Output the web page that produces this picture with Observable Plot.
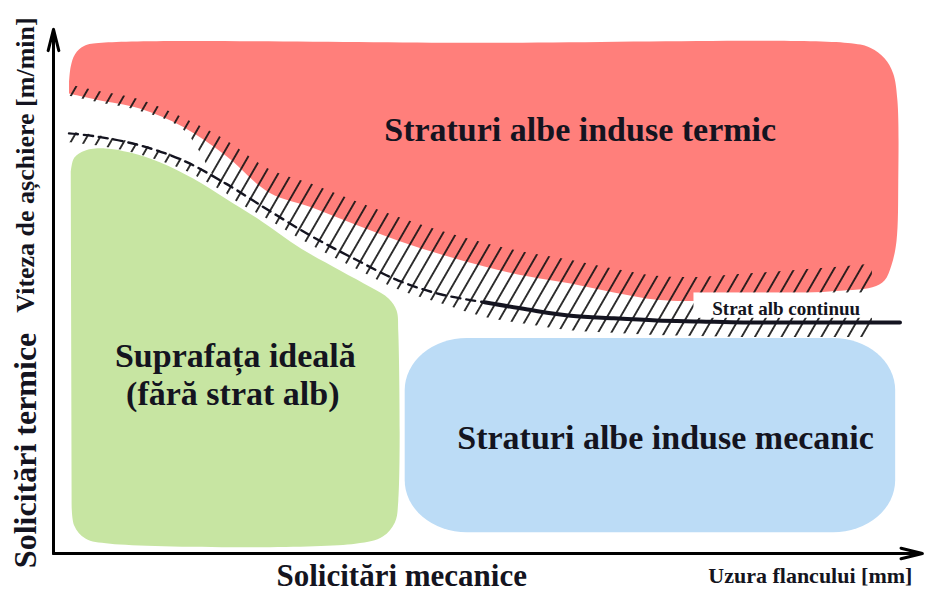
<!DOCTYPE html>
<html><head><meta charset="utf-8">
<script src="https://cdn.jsdelivr.net/npm/d3@7"></script>
<script src="https://cdn.jsdelivr.net/npm/@observablehq/plot@0.6"></script>
<style>body{margin:0;background:#fff;} #chart svg{display:block}</style>
</head><body><div id="chart"></div>
<script>
// ---- data (schematic units: x = flank wear, y = cutting speed, 0..100) ----
const xs        = [1.8, 5, 10, 15, 20, 25, 30, 35, 40, 45, 50, 55, 60, 65, 70, 75, 80, 85, 90, 95];
const redLower  = [88.8, 87.6, 85.9, 82.4, 76.8, 69.7, 66.8, 63.5, 60.4, 57.7, 55.4, 53.5, 52.1, 50.4, 49.0, 48.8, 49.4, 50.0, 50.6, 51.4];
const layerLine = [81.1, 80.5, 78.8, 75.9, 71.4, 66.2, 61.2, 56.8, 52.7, 50.0, 48.5, 47.1, 45.9, 45.4, 45.0, 44.8, 44.6, 44.6, 44.6, 44.6];
const layerEnd  = [98.2, 44.6];

const redTopX = [1.8, 2.0, 2.5, 3.6, 5.6, 50, 92.5, 94.8, 96.4, 97.4, 97.9, 98.0, 97.8, 97.2, 96.4];
const redTopY = [91.0, 94.0, 96.4, 98.0, 98.6, 98.6, 98.5, 97.6, 95.6, 92.7, 87.5, 72.0, 60.4, 55.6, 52.7];

const greenX = [2.0, 2.4, 3.7, 6.0, 8.9, 12.4, 16.2, 20.0, 24.0, 28.7, 33.3, 36.8, 38.9, 39.8, 40.0, 40.0, 39.6, 38.2, 35.0, 6.6, 3.7, 2.4, 2.1];
const greenY = [73.6, 76.4, 77.8, 78.2, 77.4, 75.5, 72.4, 68.5, 64.3, 58.9, 54.6, 51.4, 49.2, 46.9, 42.7, 10.2, 6.0, 3.3, 1.9, 1.9, 2.9, 5.4, 10.2];

const blueX = [40.8, 97.7];
const blueY = [4.0, 41.5];

const regionLabels = ["Straturi albe induse termic", "Straturi albe induse mecanic", "Suprafața ideală", "(fără strat alb)"];
const regionLabelX = [61.1, 71.0, 21.1, 20.8];
const regionLabelY = [81.7, 22.2, 38.2, 30.7];

const layerLabel = ["Strat alb continuu"];
const layerLabelX = [85.0];
const layerLabelY = [47.3];
const layerBoxX = [74.3, 95.8];
const layerBoxY = [45.4, 50.3];

const xTitles = ["Solicitări mecanice", "Uzura flancului [mm]"];
const xTitleX = [40.4, 87.8];
const xTitleY = [-4.3, -4.4];
const yTitles = ["Solicitări termice", "Viteza de așchiere [m/min]"];
const yTitleX = [-3.25, -3.25];
const yTitleY = [19.9, 75.0];

const axisEnds = [[0, 0, 0, 101.2], [0, 0, 100.8, 0]];

// ---- derived tables ----
const pts = (X, Y) => X.map((x, i) => ({x, y: Y[i]}));
const redPoly = pts(redTopX, redTopY).concat(pts(xs, redLower).reverse());
const greenPoly = pts(greenX, greenY);
const band = xs.map((x, i) => ({
  x,
  top: redLower[i] + (x <= 15 ? 1.7 : x <= 20 ? 3 : 4.5),
  bottom: x <= 15 ? redLower[i] - 0.5 : (x < 50 ? layerLine[i] - 1.8 : layerLine[i] - 2.9)
}));
const tickBand = xs.map((x, i) => ({x, top: layerLine[i] + 0.2, bottom: layerLine[i] - 1.8})).filter(d => d.x <= 20);
const dashed = pts(xs, layerLine).filter(d => d.x <= 50);
const thick = pts(xs, layerLine).filter(d => d.x >= 50).concat([{x: layerEnd[0], y: layerEnd[1]}]);
const axes = axisEnds.map(([a, b, c, d]) => ({ax: a, ay: b, bx: c, by: d}));
const blueBox = [{x1: blueX[0], x2: blueX[1], y1: blueY[0], y2: blueY[1]}];
const layerBox = [{x1: layerBoxX[0], x2: layerBoxX[1], y1: layerBoxY[0], y2: layerBoxY[1]}];
const lbl = (T, X, Y) => T.map((t, i) => ({t, x: X[i], y: Y[i]}));
const regionRows = lbl(regionLabels, regionLabelX, regionLabelY);
const layerRows = lbl(layerLabel, layerLabelX, layerLabelY);
const xRows = lbl(xTitles, xTitleX, xTitleY);
const yRows = lbl(yTitles, yTitleX, yTitleY);

const serif = "Liberation Serif, Times New Roman, serif";
const ink = "#141420";

const chart = Plot.plot({
  width: 926, height: 591, margin: 0,
  x: {domain: [0, 100], range: [53, 915], axis: null},
  y: {domain: [0, 100], range: [553, 35], axis: null},
  style: {background: "white", overflow: "visible"},
  marks: [
    Plot.line(redPoly, {x: "x", y: "y", fill: "#ff7f7b", stroke: "none", curve: "catmull-rom"}),
    Plot.line(greenPoly, {x: "x", y: "y", fill: "#c7e5a2", stroke: "none", curve: "catmull-rom"}),
    Plot.rect(blueBox, {x1: "x1", x2: "x2", y1: "y1", y2: "y2", fill: "#bcdcf6", rx: 62, ry: 52}),
    Plot.area(band, {x1: "x", y1: "bottom", y2: "top", fill: "url(#hatch)", curve: "catmull-rom"}),
    Plot.area(tickBand, {x1: "x", y1: "bottom", y2: "top", fill: "url(#hatch)", curve: "catmull-rom"}),
    Plot.line(dashed, {x: "x", y: "y", stroke: ink, strokeWidth: 2.4, strokeDasharray: "9 6", curve: "catmull-rom"}),
    Plot.line(thick, {x: "x", y: "y", stroke: ink, strokeWidth: 4, curve: "catmull-rom"}),
    Plot.rect(layerBox, {x1: "x1", x2: "x2", y1: "y1", y2: "y2", fill: "white"}),
    Plot.text(layerRows, {x: "x", y: "y", text: "t", fontSize: 19, fontWeight: "bold", fontFamily: serif, fill: ink}),
    Plot.text(regionRows, {x: "x", y: "y", text: "t", fontSize: 34, fontWeight: "bold", fontFamily: serif, fill: ink}),
    Plot.text(xRows.slice(0, 1), {x: "x", y: "y", text: "t", fontSize: 31, fontWeight: "bold", fontFamily: serif, fill: ink}),
    Plot.text(xRows.slice(1), {x: "x", y: "y", text: "t", fontSize: 22, fontWeight: "bold", fontFamily: serif, fill: ink}),
    Plot.text(yRows.slice(0, 1), {x: "x", y: "y", text: "t", rotate: -90, fontSize: 32, fontWeight: "bold", fontFamily: serif, fill: ink}),
    Plot.text(yRows.slice(1), {x: "x", y: "y", text: "t", rotate: -90, fontSize: 26, fontWeight: "bold", fontFamily: serif, fill: ink}),
    Plot.arrow(axes, {x1: "ax", y1: "ay", x2: "bx", y2: "by", stroke: "black", strokeWidth: 3, headLength: 11, headAngle: 28})
  ]
});

const defs = document.createElementNS("http://www.w3.org/2000/svg", "defs");
defs.innerHTML = '<pattern id="hatch" patternUnits="userSpaceOnUse" width="11.5" height="12" patternTransform="rotate(30)"><line x1="5.75" y1="-1" x2="5.75" y2="13" stroke="#111" stroke-width="1.7"/></pattern>';
chart.insertBefore(defs, chart.firstChild);
document.getElementById("chart").appendChild(chart);
</script>
</body></html>
